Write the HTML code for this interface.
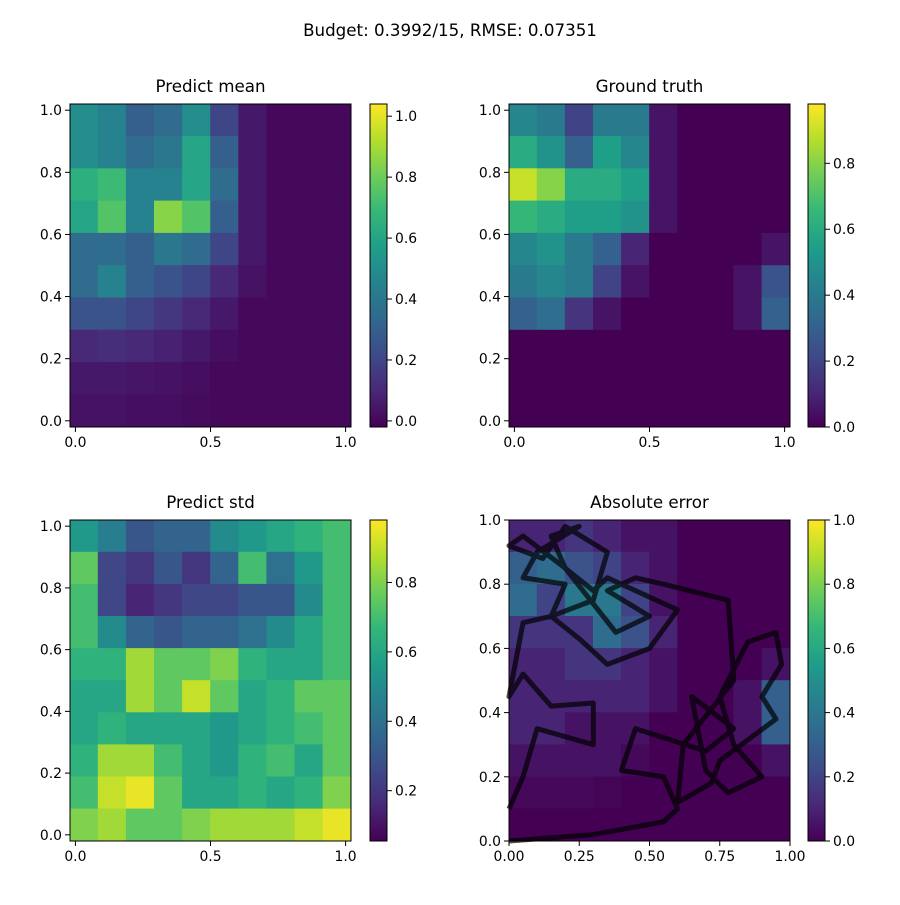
<!DOCTYPE html>
<html><head><meta charset="utf-8"><style>
body{margin:0;background:#fff}
svg text{font-family:"DejaVu Sans","Liberation Sans",sans-serif;fill:#000}
</style></head><body>
<svg id="fig" width="900" height="900" xmlns="http://www.w3.org/2000/svg">
<rect width="900" height="900" fill="#fff"/>
<text x="450" y="36" font-size="16.7" text-anchor="middle">Budget: 0.3992/15,  RMSE: 0.07351</text>
</svg>
<script>
const meanValues=[
[0.5,0.45,0.3,0.35,0.5,0.2,0.05,0,0,0],
[0.5,0.45,0.35,0.4,0.6,0.3,0.05,0,0,0],
[0.65,0.7,0.45,0.45,0.6,0.35,0.05,0,0,0],
[0.6,0.75,0.45,0.85,0.75,0.3,0.05,0,0,0],
[0.35,0.35,0.3,0.4,0.35,0.2,0.05,0,0,0],
[0.35,0.45,0.3,0.25,0.2,0.1,0.03,0,0,0],
[0.25,0.25,0.2,0.15,0.1,0.05,0,0,0,0],
[0.1,0.12,0.1,0.08,0.05,0.02,0,0,0,0],
[0.05,0.05,0.04,0.03,0.02,0,0,0,0,0],
[0.03,0.03,0.02,0.02,0.01,0,0,0,0,0]];
const truthValues=[
[0.45,0.4,0.2,0.4,0.4,0.05,0,0,0,0],
[0.6,0.5,0.3,0.55,0.45,0.05,0,0,0,0],
[0.9,0.8,0.6,0.6,0.55,0.05,0,0,0,0],
[0.65,0.6,0.55,0.55,0.5,0.05,0,0,0,0],
[0.45,0.5,0.4,0.3,0.1,0,0,0,0,0.05],
[0.4,0.45,0.4,0.2,0.05,0,0,0,0.05,0.25],
[0.3,0.35,0.15,0.05,0,0,0,0,0.05,0.3],
[0,0,0,0,0,0,0,0,0,0],
[0,0,0,0,0,0,0,0,0,0],
[0,0,0,0,0,0,0,0,0,0]];
const stdValues=[
[0.55,0.45,0.3,0.35,0.35,0.5,0.55,0.6,0.65,0.7],
[0.75,0.25,0.2,0.3,0.2,0.35,0.7,0.4,0.55,0.7],
[0.7,0.25,0.15,0.2,0.25,0.25,0.3,0.3,0.5,0.7],
[0.7,0.5,0.35,0.3,0.35,0.35,0.4,0.5,0.6,0.7],
[0.65,0.65,0.85,0.75,0.75,0.8,0.65,0.6,0.6,0.7],
[0.6,0.6,0.85,0.75,0.9,0.75,0.6,0.65,0.75,0.75],
[0.6,0.65,0.6,0.6,0.6,0.55,0.6,0.65,0.7,0.75],
[0.65,0.85,0.85,0.7,0.6,0.55,0.65,0.7,0.6,0.75],
[0.7,0.9,0.95,0.75,0.6,0.6,0.65,0.6,0.65,0.8],
[0.8,0.85,0.75,0.75,0.8,0.85,0.85,0.85,0.9,0.95]];
const errorValues=[
[0.1,0.1,0.15,0.1,0.05,0.05,0,0,0,0],
[0.3,0.35,0.25,0.2,0.1,0.05,0,0,0,0],
[0.35,0.2,0.4,0.4,0.2,0.05,0,0,0,0],
[0.15,0.15,0.15,0.35,0.25,0.1,0,0,0,0],
[0.1,0.1,0.15,0.15,0.1,0.05,0,0,0,0.05],
[0.1,0.1,0.1,0.1,0.1,0.05,0,0,0.05,0.3],
[0.1,0.1,0.05,0.05,0.05,0,0,0,0.05,0.3],
[0.05,0.05,0.05,0.05,0.02,0,0,0,0,0.05],
[0.02,0.02,0.02,0.01,0,0,0,0,0,0],
[0,0,0,0,0,0,0,0,0,0]];
const pathX=[0,0.3,0.55,0.6,0.55,0.4,0.45,0.7,0.8,0.65,0.7,0.78,0.9,0.8,0.75,0.85,0.95,0.97,0.9,0.95,0.75,0.72,0.6,0.62,0.8,0.78,0.55,0.45,0.35,0.5,0.38,0.2,0.15,0.25,0.1,0.05,0.2,0.15,0.3,0.35,0.2,0.12,0,0.05,0.2,0.3,0.35,0.5,0.6,0.5,0.35,0.25,0.15,0.05,0,0.05,0.15,0.3,0.3,0.1,0.05,0];
const pathY=[0,0.02,0.06,0.1,0.2,0.22,0.35,0.28,0.35,0.45,0.22,0.15,0.2,0.3,0.45,0.62,0.65,0.55,0.45,0.38,0.25,0.18,0.12,0.3,0.5,0.75,0.8,0.82,0.78,0.7,0.65,0.85,0.95,0.98,0.9,0.82,0.8,0.7,0.75,0.9,0.98,0.88,0.92,0.95,0.85,0.78,0.82,0.76,0.72,0.6,0.55,0.63,0.7,0.68,0.45,0.52,0.42,0.43,0.3,0.35,0.2,0.1];
const cbTicksMean=[0,0.2,0.4,0.6,0.8,1.0];
const cbTicksTruth=[0,0.2,0.4,0.6,0.8];
const cbTicksStd=[0.2,0.4,0.6,0.8];
const cbTicksErr=[0,0.2,0.4,0.6,0.8,1.0];

const VIR=[[68,1,84],[72,40,120],[62,74,137],[49,104,142],[38,130,142],[31,158,137],[53,183,121],[109,205,89],[180,222,44],[253,231,37]];
function viridis(t){t=Math.max(0,Math.min(1,t));const p=t*9,i=Math.min(8,Math.floor(p)),f=p-i;const a=VIR[i],b=VIR[i+1];return `rgb(${a.map((v,k)=>Math.round(v+(b[k]-v)*f)).join(',')})`;}
const svg=document.getElementById('fig');const NS='http://www.w3.org/2000/svg';
function el(tag,attrs,parent){const e=document.createElementNS(NS,tag);for(const k in attrs)e.setAttribute(k,attrs[k]);(parent||svg).appendChild(e);return e;}
function txt(s,attrs){const t=el('text',attrs);t.textContent=s;return t;}
const defs=el('defs',{});const g=el('linearGradient',{id:'vg',x1:0,y1:1,x2:0,y2:0},defs);
VIR.forEach((c,i)=>el('stop',{offset:i/9,'stop-color':`rgb(${c})`},g));

function panel(o){
  const {L,T,W,H,title,vals,xmin,xmax,ymin,ymax,vmin,vmax,xt,xtl,yt,cbx,cbTicks,cbFmt,name}=o;
  const sx=v=>L+(v-xmin)/(xmax-xmin)*W, sy=v=>T+H-(v-ymin)/(ymax-ymin)*H;
  const n=vals.length,m=vals[0].length;
  const cw=W/m, ch=H/n;
  const grp=el('g',{});
  
  
  vals.forEach((row,r)=>row.forEach((v,c)=>{
    const rc=el('rect',{x:L+c*cw-0.3,y:T+r*ch-0.3,width:cw+0.6,height:ch+0.6,fill:viridis((v-vmin)/(vmax-vmin))},grp);
    
    
  }));
  if(o.path){
    const pts=pathX.map((x,i)=>sx(x)+','+sy(pathY[i])).join(' ');
    const pl=el('polyline',{points:pts,fill:'none',stroke:'#000','stroke-opacity':0.7,'stroke-width':5,'stroke-linejoin':'round'});
    
    
  }
  const fr=el('rect',{x:L,y:T,width:W,height:H,fill:'none',stroke:'#000','stroke-width':1});
  
  
  const tt=txt(title,{x:L+W/2,y:T-12,'font-size':16.7,'text-anchor':'middle'});
  
  
  xt.forEach((v,i)=>{el('line',{x1:sx(v),x2:sx(v),y1:T+H,y2:T+H+5,stroke:'#000'});
    const t=txt(xtl[i],{x:sx(v),y:T+H+20,'font-size':13.9,'text-anchor':'middle'});
    });
  yt.forEach(v=>{el('line',{x1:L-5,x2:L,y1:sy(v),y2:sy(v),stroke:'#000'});
    const t=txt(v.toFixed(1),{x:L-8,y:sy(v)+5,'font-size':13.9,'text-anchor':'end'});
    });
  const cb=el('rect',{x:cbx,y:T,width:17,height:H,fill:'url(#vg)',stroke:'#000','stroke-width':1});
  
  
  const cy=v=>T+H-(v-vmin)/(vmax-vmin)*H;
  cbTicks.forEach(v=>{el('line',{x1:cbx+17,x2:cbx+22,y1:cy(v),y2:cy(v),stroke:'#000'});
    const t=txt(v.toFixed(cbFmt),{x:cbx+25,y:cy(v)+5,'font-size':13.9});
    });
}
const xt=[0,0.5,1],xtl=['0.0','0.5','1.0'],yt=[0,0.2,0.4,0.6,0.8,1.0];
panel({name:'predict-mean',L:70,T:104,W:281,H:323,title:'Predict mean',vals:meanValues,xmin:-0.02,xmax:1.02,ymin:-0.02,ymax:1.02,vmin:-0.02,vmax:1.04,xt,xtl,yt,cbx:370,cbTicks:cbTicksMean,cbFmt:1});
panel({name:'ground-truth',L:509,T:104,W:281,H:323,title:'Ground truth',vals:truthValues,xmin:-0.02,xmax:1.02,ymin:-0.02,ymax:1.02,vmin:0,vmax:0.98,xt,xtl,yt,cbx:808,cbTicks:cbTicksTruth,cbFmt:1});
panel({name:'predict-std',L:70,T:520,W:281,H:321,title:'Predict std',vals:stdValues,xmin:-0.02,xmax:1.02,ymin:-0.02,ymax:1.02,vmin:0.055,vmax:0.98,xt,xtl,yt,cbx:370,cbTicks:cbTicksStd,cbFmt:1});
panel({name:'absolute-error',L:509,T:520,W:281,H:321,title:'Absolute error',vals:errorValues,xmin:0,xmax:1,ymin:0,ymax:1,vmin:0,vmax:1,xt:[0,0.25,0.5,0.75,1],xtl:['0.00','0.25','0.50','0.75','1.00'],yt,cbx:808,cbTicks:cbTicksErr,cbFmt:1,path:true});
</script>
</body></html>
